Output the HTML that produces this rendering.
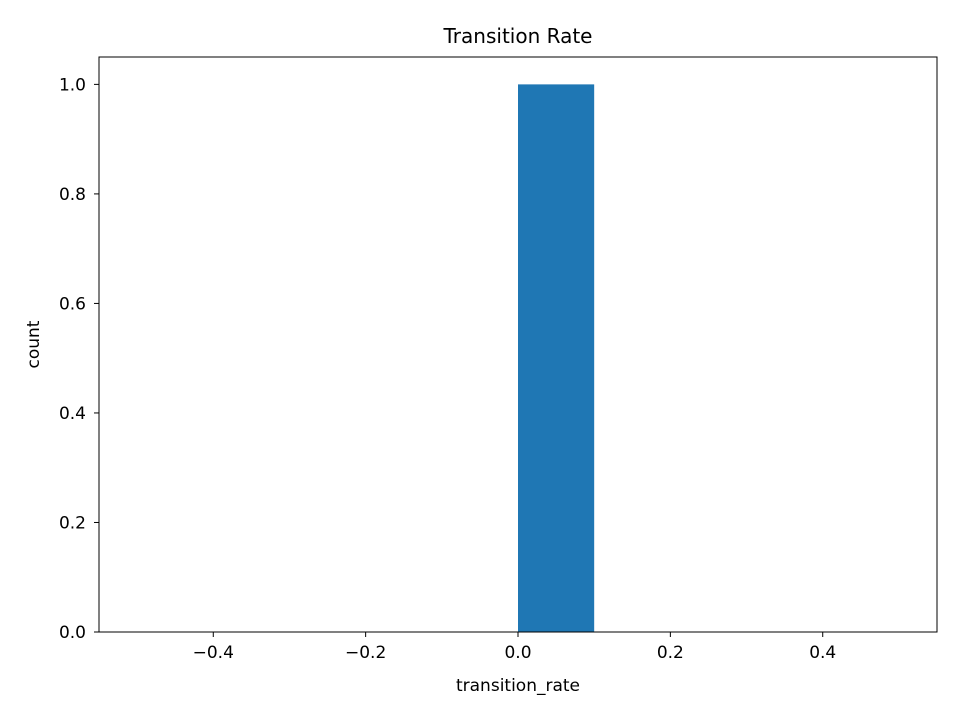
<!DOCTYPE html>
<html><head><meta charset="utf-8"><style>
body{margin:0;background:#fff;}
svg text{font-family:"DejaVu Sans","Liberation Sans",sans-serif;fill:#000;}
</style></head><body>
<svg id="chart" width="960" height="720"></svg>
<script>
const binEdges=[-0.5,-0.4,-0.3,-0.2,-0.1,0.0,0.1,0.2,0.3,0.4,0.5];
const counts=[0,0,0,0,0,1,0,0,0,0];
const xTicks=[-0.4,-0.2,0.0,0.2,0.4];
const xTickLabels=["\u22120.4","\u22120.2","0.0","0.2","0.4"];
const yTicks=[0,0.2,0.4,0.6,0.8,1.0];
const yTickLabels=["0.0","0.2","0.4","0.6","0.8","1.0"];
const L=99,R=937,T=57,B=632;
const xMin=-0.55,xMax=0.55,yMin=0,yMax=1.05;
const sx=v=>L+(v-xMin)/(xMax-xMin)*(R-L);
const sy=v=>B-(v-yMin)/(yMax-yMin)*(B-T);
const svg=document.getElementById('chart');
const NS='http://www.w3.org/2000/svg';
function mk(tag,attrs){const e=document.createElementNS(NS,tag);for(const k in attrs)e.setAttribute(k,attrs[k]);svg.appendChild(e);return e;}
for(let i=0;i<counts.length;i++){
  if(counts[i]<=0)continue;
  const r=mk('rect',{x:sx(binEdges[i]),y:sy(counts[i]),width:sx(binEdges[i+1])-sx(binEdges[i]),height:sy(0)-sy(counts[i]),fill:'#1f77b4'});
  
  
}
const frame=mk('rect',{x:L,y:T,width:R-L,height:B-T,fill:'none',stroke:'#000','stroke-width':1});


xTicks.forEach((v,i)=>{
  const x=sx(v);
  const t=mk('line',{x1:x,x2:x,y1:B,y2:B+5,stroke:'#000'});
  
  
  const l=mk('text',{x:x,y:B+26,'text-anchor':'middle','font-size':'17'});
  l.textContent=xTickLabels[i];
  
  
});
yTicks.forEach((v,i)=>{
  const y=sy(v);
  const t=mk('line',{x1:L-5,x2:L,y1:y,y2:y,stroke:'#000'});
  
  
  const l=mk('text',{x:L-13,y:y+6,'text-anchor':'end','font-size':'17'});
  l.textContent=yTickLabels[i];
  
  
});
const title=mk('text',{x:(L+R)/2,y:43,'text-anchor':'middle','font-size':'20'});
title.textContent='Transition Rate';


const xt=mk('text',{x:(L+R)/2,y:691,'text-anchor':'middle','font-size':'17'});
xt.textContent='transition_rate';


const yt=mk('text',{x:39,y:(T+B)/2,'text-anchor':'middle','font-size':'17',transform:'rotate(-90 39 '+((T+B)/2)+')'});
yt.textContent='count';


</script>
</body></html>
